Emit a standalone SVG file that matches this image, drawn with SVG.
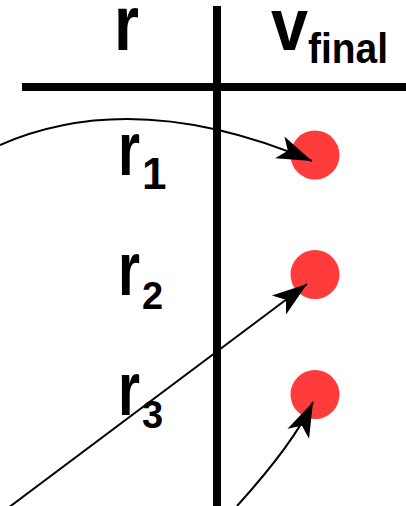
<svg xmlns="http://www.w3.org/2000/svg" width="406" height="506" viewBox="0 0 406 506">
<style>
.rule{stroke:#000;stroke-width:8;fill:none}
.lbl{font-family:"Liberation Sans",sans-serif;font-weight:bold;fill:#000}
.dot{fill:#ff3b3b}
.arr{stroke:#000;stroke-width:2;fill:none;marker-end:url(#head)}
</style>
<defs>
<marker id="head" markerUnits="userSpaceOnUse" markerWidth="40" markerHeight="40" viewBox="-30 -15 32 30" refX="0" refY="0" orient="auto">
<path d="M0,0 L-28,-9.5 L-21,0 L-28,9.5 Z" fill="#000"/>
</marker>
</defs>
<g id="table">
<line class="rule" x1="217" y1="6" x2="217" y2="506"/>
<line class="rule" x1="22" y1="87" x2="406" y2="87"/>
</g>
<g id="header-r"><text class="lbl" x="114" y="50" font-size="78" textLength="25" lengthAdjust="spacingAndGlyphs">r</text></g>
<g id="header-v"><text class="lbl" x="271" y="50" font-size="74" textLength="37" lengthAdjust="spacingAndGlyphs">v</text><text class="lbl" x="308" y="63" font-size="42" textLength="80" lengthAdjust="spacingAndGlyphs">final</text></g>
<g id="r1"><text class="lbl" x="118" y="175" font-size="76" textLength="22" lengthAdjust="spacingAndGlyphs">r</text><text class="lbl" x="142" y="189" font-size="44">1</text></g>
<g id="r2"><text class="lbl" x="118" y="295" font-size="76" textLength="22" lengthAdjust="spacingAndGlyphs">r</text><text class="lbl" x="142" y="309" font-size="38">2</text></g>
<g id="r3"><text class="lbl" x="118" y="415" font-size="76" textLength="22" lengthAdjust="spacingAndGlyphs">r</text><text class="lbl" x="142" y="428" font-size="38">3</text></g>
<g id="v1"><circle class="dot" cx="315" cy="155" r="24.5"/></g>
<g id="v2"><circle class="dot" cx="315" cy="274.5" r="24.5"/></g>
<g id="v3"><circle class="dot" cx="315" cy="394.5" r="24.5"/></g>
<g id="connectors">
<path class="arr" d="M0,145 Q135,86 312,161"/>
<path class="arr" d="M0,514 L307,284"/>
<path class="arr" d="M237,506 Q294,443 313,402"/>
</g>
</svg>
